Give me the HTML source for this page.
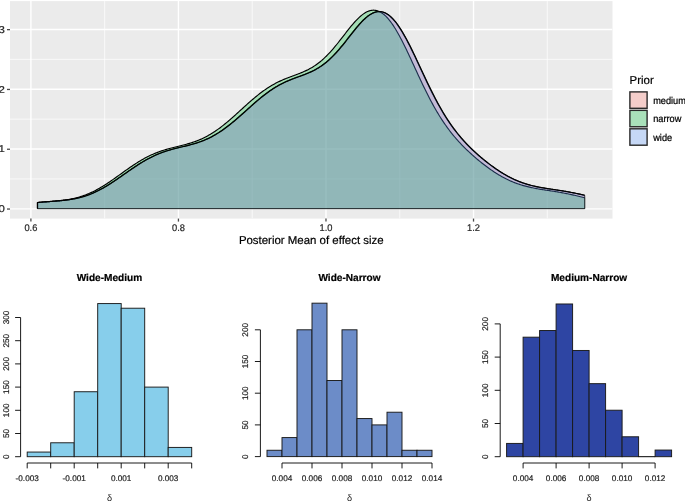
<!DOCTYPE html>
<html><head><meta charset="utf-8"><title>Posterior densities</title>
<style>html,body{margin:0;padding:0;background:#fff;width:685px;height:501px;overflow:hidden}</style>
</head><body>
<svg width="685" height="501" viewBox="0 0 685 501" style="display:block;will-change:transform;text-rendering:geometricPrecision;font-family:'Liberation Sans',sans-serif">
<rect width="685" height="501" fill="#fff"/>
<rect x="10.0" y="1.1" width="602.5" height="217.5" fill="#EBEBEB"/>
<clipPath id="pc"><rect x="10.0" y="1.1" width="602.5" height="217.5"/></clipPath>
<g clip-path="url(#pc)">
<line x1="10.0" x2="612.5" y1="178.95" y2="178.95" stroke="#fff" stroke-width="0.7"/>
<line x1="10.0" x2="612.5" y1="119.15" y2="119.15" stroke="#fff" stroke-width="0.7"/>
<line x1="10.0" x2="612.5" y1="59.35" y2="59.35" stroke="#fff" stroke-width="0.7"/>
<line x1="104.67" x2="104.67" y1="1.1" y2="218.6" stroke="#fff" stroke-width="0.7"/>
<line x1="252.21" x2="252.21" y1="1.1" y2="218.6" stroke="#fff" stroke-width="0.7"/>
<line x1="399.75" x2="399.75" y1="1.1" y2="218.6" stroke="#fff" stroke-width="0.7"/>
<line x1="547.29" x2="547.29" y1="1.1" y2="218.6" stroke="#fff" stroke-width="0.7"/>
<line x1="10.0" x2="612.5" y1="208.85" y2="208.85" stroke="#fff" stroke-width="1.4"/>
<line x1="10.0" x2="612.5" y1="149.05" y2="149.05" stroke="#fff" stroke-width="1.4"/>
<line x1="10.0" x2="612.5" y1="89.25" y2="89.25" stroke="#fff" stroke-width="1.4"/>
<line x1="10.0" x2="612.5" y1="29.45" y2="29.45" stroke="#fff" stroke-width="1.4"/>
<line x1="30.90" x2="30.90" y1="1.1" y2="218.6" stroke="#fff" stroke-width="1.4"/>
<line x1="178.44" x2="178.44" y1="1.1" y2="218.6" stroke="#fff" stroke-width="1.4"/>
<line x1="325.98" x2="325.98" y1="1.1" y2="218.6" stroke="#fff" stroke-width="1.4"/>
<line x1="473.52" x2="473.52" y1="1.1" y2="218.6" stroke="#fff" stroke-width="1.4"/>
<path d="M37.50,208.60 L37.50,202.56 L38.50,202.47 L39.50,202.39 L40.50,202.31 L41.50,202.22 L42.50,202.14 L43.50,202.07 L44.50,201.99 L45.50,201.91 L46.50,201.84 L47.50,201.76 L48.50,201.69 L49.50,201.61 L50.50,201.54 L51.50,201.46 L52.50,201.39 L53.50,201.31 L54.50,201.23 L55.50,201.15 L56.50,201.07 L57.50,200.99 L58.50,200.90 L59.50,200.81 L60.50,200.71 L61.50,200.62 L62.50,200.51 L63.50,200.40 L64.50,200.29 L65.50,200.17 L66.50,200.04 L67.50,199.91 L68.50,199.76 L69.50,199.61 L70.50,199.46 L71.50,199.29 L72.50,199.12 L73.50,198.93 L74.50,198.74 L75.50,198.54 L76.50,198.32 L77.50,198.10 L78.50,197.86 L79.50,197.61 L80.50,197.35 L81.50,197.08 L82.50,196.80 L83.50,196.50 L84.50,196.19 L85.50,195.87 L86.50,195.54 L87.50,195.19 L88.50,194.83 L89.50,194.46 L90.50,194.07 L91.50,193.66 L92.50,193.23 L93.50,192.79 L94.50,192.34 L95.50,191.87 L96.50,191.39 L97.50,190.90 L98.50,190.39 L99.50,189.87 L100.50,189.34 L101.50,188.80 L102.50,188.24 L103.50,187.67 L104.50,187.09 L105.50,186.50 L106.50,185.90 L107.50,185.29 L108.50,184.66 L109.50,184.03 L110.50,183.39 L111.50,182.75 L112.50,182.09 L113.50,181.43 L114.50,180.76 L115.50,180.08 L116.50,179.40 L117.50,178.72 L118.50,178.03 L119.50,177.34 L120.50,176.64 L121.50,175.94 L122.50,175.24 L123.50,174.54 L124.50,173.84 L125.50,173.14 L126.50,172.44 L127.50,171.74 L128.50,171.05 L129.50,170.36 L130.50,169.67 L131.50,168.98 L132.50,168.30 L133.50,167.62 L134.50,166.95 L135.50,166.29 L136.50,165.63 L137.50,164.98 L138.50,164.34 L139.50,163.71 L140.50,163.09 L141.50,162.48 L142.50,161.87 L143.50,161.28 L144.50,160.70 L145.50,160.13 L146.50,159.57 L147.50,159.02 L148.50,158.49 L149.50,157.96 L150.50,157.45 L151.50,156.95 L152.50,156.47 L153.50,155.99 L154.50,155.53 L155.50,155.08 L156.50,154.65 L157.50,154.22 L158.50,153.81 L159.50,153.41 L160.50,153.03 L161.50,152.65 L162.50,152.29 L163.50,151.93 L164.50,151.59 L165.50,151.26 L166.50,150.94 L167.50,150.63 L168.50,150.32 L169.50,150.03 L170.50,149.74 L171.50,149.46 L172.50,149.19 L173.50,148.92 L174.50,148.66 L175.50,148.41 L176.50,148.16 L177.50,147.91 L178.50,147.67 L179.50,147.42 L180.50,147.18 L181.50,146.94 L182.50,146.71 L183.50,146.47 L184.50,146.22 L185.50,145.98 L186.50,145.73 L187.50,145.48 L188.50,145.23 L189.50,144.97 L190.50,144.70 L191.50,144.43 L192.50,144.15 L193.50,143.87 L194.50,143.57 L195.50,143.27 L196.50,142.95 L197.50,142.63 L198.50,142.29 L199.50,141.94 L200.50,141.58 L201.50,141.21 L202.50,140.82 L203.50,140.42 L204.50,140.01 L205.50,139.58 L206.50,139.14 L207.50,138.68 L208.50,138.21 L209.50,137.72 L210.50,137.22 L211.50,136.70 L212.50,136.16 L213.50,135.61 L214.50,135.04 L215.50,134.46 L216.50,133.86 L217.50,133.25 L218.50,132.61 L219.50,131.97 L220.50,131.31 L221.50,130.63 L222.50,129.93 L223.50,129.23 L224.50,128.51 L225.50,127.77 L226.50,127.02 L227.50,126.26 L228.50,125.48 L229.50,124.70 L230.50,123.90 L231.50,123.09 L232.50,122.27 L233.50,121.44 L234.50,120.60 L235.50,119.75 L236.50,118.90 L237.50,118.03 L238.50,117.16 L239.50,116.29 L240.50,115.41 L241.50,114.53 L242.50,113.64 L243.50,112.75 L244.50,111.86 L245.50,110.96 L246.50,110.06 L247.50,109.15 L248.50,108.25 L249.50,107.35 L250.50,106.46 L251.50,105.56 L252.50,104.68 L253.50,103.80 L254.50,102.92 L255.50,102.05 L256.50,101.19 L257.50,100.34 L258.50,99.50 L259.50,98.66 L260.50,97.84 L261.50,97.03 L262.50,96.23 L263.50,95.44 L264.50,94.67 L265.50,93.91 L266.50,93.16 L267.50,92.43 L268.50,91.71 L269.50,91.00 L270.50,90.32 L271.50,89.64 L272.50,88.98 L273.50,88.34 L274.50,87.72 L275.50,87.11 L276.50,86.51 L277.50,85.93 L278.50,85.37 L279.50,84.82 L280.50,84.29 L281.50,83.77 L282.50,83.27 L283.50,82.78 L284.50,82.30 L285.50,81.84 L286.50,81.39 L287.50,80.95 L288.50,80.53 L289.50,80.11 L290.50,79.70 L291.50,79.30 L292.50,78.91 L293.50,78.53 L294.50,78.15 L295.50,77.78 L296.50,77.41 L297.50,77.04 L298.50,76.67 L299.50,76.31 L300.50,75.94 L301.50,75.57 L302.50,75.19 L303.50,74.82 L304.50,74.43 L305.50,74.04 L306.50,73.64 L307.50,73.23 L308.50,72.80 L309.50,72.37 L310.50,71.92 L311.50,71.45 L312.50,70.97 L313.50,70.47 L314.50,69.95 L315.50,69.41 L316.50,68.85 L317.50,68.26 L318.50,67.65 L319.50,67.02 L320.50,66.36 L321.50,65.68 L322.50,64.97 L323.50,64.23 L324.50,63.46 L325.50,62.67 L326.50,61.85 L327.50,61.00 L328.50,60.12 L329.50,59.21 L330.50,58.27 L331.50,57.30 L332.50,56.31 L333.50,55.29 L334.50,54.24 L335.50,53.17 L336.50,52.07 L337.50,50.94 L338.50,49.80 L339.50,48.63 L340.50,47.44 L341.50,46.24 L342.50,45.02 L343.50,43.78 L344.50,42.53 L345.50,41.27 L346.50,40.00 L347.50,38.73 L348.50,37.46 L349.50,36.18 L350.50,34.91 L351.50,33.64 L352.50,32.37 L353.50,31.12 L354.50,29.88 L355.50,28.65 L356.50,27.45 L357.50,26.26 L358.50,25.10 L359.50,23.97 L360.50,22.87 L361.50,21.80 L362.50,20.77 L363.50,19.78 L364.50,18.84 L365.50,17.93 L366.50,17.08 L367.50,16.28 L368.50,15.54 L369.50,14.85 L370.50,14.22 L371.50,13.65 L372.50,13.15 L373.50,12.71 L374.50,12.35 L375.50,12.05 L376.50,11.82 L377.50,11.67 L378.50,11.59 L379.50,11.59 L380.50,11.67 L381.50,11.82 L382.50,12.06 L383.50,12.37 L384.50,12.76 L385.50,13.23 L386.50,13.78 L387.50,14.41 L388.50,15.12 L389.50,15.91 L390.50,16.78 L391.50,17.72 L392.50,18.73 L393.50,19.82 L394.50,20.99 L395.50,22.22 L396.50,23.52 L397.50,24.89 L398.50,26.32 L399.50,27.82 L400.50,29.37 L401.50,30.98 L402.50,32.65 L403.50,34.37 L404.50,36.14 L405.50,37.95 L406.50,39.81 L407.50,41.70 L408.50,43.64 L409.50,45.61 L410.50,47.61 L411.50,49.64 L412.50,51.69 L413.50,53.77 L414.50,55.86 L415.50,57.97 L416.50,60.10 L417.50,62.23 L418.50,64.37 L419.50,66.51 L420.50,68.66 L421.50,70.80 L422.50,72.94 L423.50,75.08 L424.50,77.20 L425.50,79.32 L426.50,81.42 L427.50,83.51 L428.50,85.58 L429.50,87.63 L430.50,89.66 L431.50,91.67 L432.50,93.65 L433.50,95.61 L434.50,97.54 L435.50,99.45 L436.50,101.33 L437.50,103.18 L438.50,105.00 L439.50,106.79 L440.50,108.54 L441.50,110.27 L442.50,111.97 L443.50,113.63 L444.50,115.27 L445.50,116.87 L446.50,118.44 L447.50,119.98 L448.50,121.49 L449.50,122.97 L450.50,124.41 L451.50,125.83 L452.50,127.22 L453.50,128.58 L454.50,129.92 L455.50,131.22 L456.50,132.50 L457.50,133.75 L458.50,134.98 L459.50,136.19 L460.50,137.37 L461.50,138.53 L462.50,139.66 L463.50,140.78 L464.50,141.88 L465.50,142.95 L466.50,144.01 L467.50,145.05 L468.50,146.07 L469.50,147.07 L470.50,148.06 L471.50,149.03 L472.50,149.99 L473.50,150.94 L474.50,151.87 L475.50,152.78 L476.50,153.69 L477.50,154.58 L478.50,155.46 L479.50,156.32 L480.50,157.18 L481.50,158.02 L482.50,158.86 L483.50,159.68 L484.50,160.49 L485.50,161.29 L486.50,162.08 L487.50,162.87 L488.50,163.64 L489.50,164.39 L490.50,165.14 L491.50,165.88 L492.50,166.61 L493.50,167.33 L494.50,168.03 L495.50,168.73 L496.50,169.41 L497.50,170.09 L498.50,170.75 L499.50,171.40 L500.50,172.03 L501.50,172.66 L502.50,173.28 L503.50,173.88 L504.50,174.47 L505.50,175.04 L506.50,175.61 L507.50,176.16 L508.50,176.70 L509.50,177.22 L510.50,177.74 L511.50,178.24 L512.50,178.72 L513.50,179.20 L514.50,179.66 L515.50,180.10 L516.50,180.54 L517.50,180.96 L518.50,181.36 L519.50,181.76 L520.50,182.14 L521.50,182.51 L522.50,182.87 L523.50,183.21 L524.50,183.54 L525.50,183.86 L526.50,184.17 L527.50,184.47 L528.50,184.76 L529.50,185.03 L530.50,185.30 L531.50,185.56 L532.50,185.80 L533.50,186.04 L534.50,186.27 L535.50,186.49 L536.50,186.70 L537.50,186.91 L538.50,187.11 L539.50,187.30 L540.50,187.49 L541.50,187.67 L542.50,187.84 L543.50,188.01 L544.50,188.18 L545.50,188.34 L546.50,188.50 L547.50,188.66 L548.50,188.81 L549.50,188.96 L550.50,189.11 L551.50,189.26 L552.50,189.41 L553.50,189.56 L554.50,189.71 L555.50,189.86 L556.50,190.01 L557.50,190.16 L558.50,190.31 L559.50,190.46 L560.50,190.62 L561.50,190.78 L562.50,190.94 L563.50,191.10 L564.50,191.27 L565.50,191.43 L566.50,191.61 L567.50,191.78 L568.50,191.96 L569.50,192.14 L570.50,192.33 L571.50,192.52 L572.50,192.71 L573.50,192.91 L574.50,193.11 L575.50,193.31 L576.50,193.52 L577.50,193.73 L578.50,193.95 L579.50,194.17 L580.50,194.39 L581.50,194.61 L582.50,194.84 L583.50,195.07 L584.50,195.31 L584.70,195.35 L584.70,208.60 Z" fill="#F8766D" fill-opacity="0.3" stroke="none"/>
<path d="M37.50,208.60 L37.50,202.56 L38.50,202.47 L39.50,202.39 L40.50,202.31 L41.50,202.22 L42.50,202.14 L43.50,202.07 L44.50,201.99 L45.50,201.91 L46.50,201.84 L47.50,201.76 L48.50,201.69 L49.50,201.61 L50.50,201.54 L51.50,201.46 L52.50,201.39 L53.50,201.31 L54.50,201.23 L55.50,201.15 L56.50,201.07 L57.50,200.99 L58.50,200.90 L59.50,200.81 L60.50,200.71 L61.50,200.62 L62.50,200.51 L63.50,200.40 L64.50,200.29 L65.50,200.17 L66.50,200.04 L67.50,199.91 L68.50,199.76 L69.50,199.61 L70.50,199.46 L71.50,199.29 L72.50,199.12 L73.50,198.93 L74.50,198.74 L75.50,198.54 L76.50,198.32 L77.50,198.10 L78.50,197.86 L79.50,197.61 L80.50,197.35 L81.50,197.08 L82.50,196.80 L83.50,196.50 L84.50,196.19 L85.50,195.87 L86.50,195.54 L87.50,195.19 L88.50,194.83 L89.50,194.46 L90.50,194.07 L91.50,193.66 L92.50,193.23 L93.50,192.79 L94.50,192.34 L95.50,191.87 L96.50,191.39 L97.50,190.90 L98.50,190.39 L99.50,189.87 L100.50,189.34 L101.50,188.80 L102.50,188.24 L103.50,187.67 L104.50,187.09 L105.50,186.50 L106.50,185.90 L107.50,185.29 L108.50,184.66 L109.50,184.03 L110.50,183.39 L111.50,182.75 L112.50,182.09 L113.50,181.43 L114.50,180.76 L115.50,180.08 L116.50,179.40 L117.50,178.72 L118.50,178.03 L119.50,177.34 L120.50,176.64 L121.50,175.94 L122.50,175.24 L123.50,174.54 L124.50,173.84 L125.50,173.14 L126.50,172.44 L127.50,171.74 L128.50,171.05 L129.50,170.36 L130.50,169.67 L131.50,168.98 L132.50,168.30 L133.50,167.62 L134.50,166.95 L135.50,166.29 L136.50,165.63 L137.50,164.98 L138.50,164.34 L139.50,163.71 L140.50,163.09 L141.50,162.48 L142.50,161.87 L143.50,161.28 L144.50,160.70 L145.50,160.13 L146.50,159.57 L147.50,159.02 L148.50,158.49 L149.50,157.96 L150.50,157.45 L151.50,156.95 L152.50,156.47 L153.50,155.99 L154.50,155.53 L155.50,155.08 L156.50,154.65 L157.50,154.22 L158.50,153.81 L159.50,153.41 L160.50,153.03 L161.50,152.65 L162.50,152.29 L163.50,151.93 L164.50,151.59 L165.50,151.26 L166.50,150.94 L167.50,150.63 L168.50,150.32 L169.50,150.03 L170.50,149.74 L171.50,149.46 L172.50,149.19 L173.50,148.92 L174.50,148.66 L175.50,148.41 L176.50,148.16 L177.50,147.91 L178.50,147.67 L179.50,147.42 L180.50,147.18 L181.50,146.94 L182.50,146.71 L183.50,146.47 L184.50,146.22 L185.50,145.98 L186.50,145.73 L187.50,145.48 L188.50,145.23 L189.50,144.97 L190.50,144.70 L191.50,144.43 L192.50,144.15 L193.50,143.87 L194.50,143.57 L195.50,143.27 L196.50,142.95 L197.50,142.63 L198.50,142.29 L199.50,141.94 L200.50,141.58 L201.50,141.21 L202.50,140.82 L203.50,140.42 L204.50,140.01 L205.50,139.58 L206.50,139.14 L207.50,138.68 L208.50,138.21 L209.50,137.72 L210.50,137.22 L211.50,136.70 L212.50,136.16 L213.50,135.61 L214.50,135.04 L215.50,134.46 L216.50,133.86 L217.50,133.25 L218.50,132.61 L219.50,131.97 L220.50,131.31 L221.50,130.63 L222.50,129.93 L223.50,129.23 L224.50,128.51 L225.50,127.77 L226.50,127.02 L227.50,126.26 L228.50,125.48 L229.50,124.70 L230.50,123.90 L231.50,123.09 L232.50,122.27 L233.50,121.44 L234.50,120.60 L235.50,119.75 L236.50,118.90 L237.50,118.03 L238.50,117.16 L239.50,116.29 L240.50,115.41 L241.50,114.53 L242.50,113.64 L243.50,112.75 L244.50,111.86 L245.50,110.96 L246.50,110.06 L247.50,109.15 L248.50,108.25 L249.50,107.35 L250.50,106.46 L251.50,105.56 L252.50,104.68 L253.50,103.80 L254.50,102.92 L255.50,102.05 L256.50,101.19 L257.50,100.34 L258.50,99.50 L259.50,98.66 L260.50,97.84 L261.50,97.03 L262.50,96.23 L263.50,95.44 L264.50,94.67 L265.50,93.91 L266.50,93.16 L267.50,92.43 L268.50,91.71 L269.50,91.00 L270.50,90.32 L271.50,89.64 L272.50,88.98 L273.50,88.34 L274.50,87.72 L275.50,87.11 L276.50,86.51 L277.50,85.93 L278.50,85.37 L279.50,84.82 L280.50,84.29 L281.50,83.77 L282.50,83.27 L283.50,82.78 L284.50,82.30 L285.50,81.84 L286.50,81.39 L287.50,80.95 L288.50,80.53 L289.50,80.11 L290.50,79.70 L291.50,79.30 L292.50,78.91 L293.50,78.53 L294.50,78.15 L295.50,77.78 L296.50,77.41 L297.50,77.04 L298.50,76.67 L299.50,76.31 L300.50,75.94 L301.50,75.57 L302.50,75.19 L303.50,74.82 L304.50,74.43 L305.50,74.04 L306.50,73.64 L307.50,73.23 L308.50,72.80 L309.50,72.37 L310.50,71.92 L311.50,71.45 L312.50,70.97 L313.50,70.47 L314.50,69.95 L315.50,69.41 L316.50,68.85 L317.50,68.26 L318.50,67.65 L319.50,67.02 L320.50,66.36 L321.50,65.68 L322.50,64.97 L323.50,64.23 L324.50,63.46 L325.50,62.67 L326.50,61.85 L327.50,61.00 L328.50,60.12 L329.50,59.21 L330.50,58.27 L331.50,57.30 L332.50,56.31 L333.50,55.29 L334.50,54.24 L335.50,53.17 L336.50,52.07 L337.50,50.94 L338.50,49.80 L339.50,48.63 L340.50,47.44 L341.50,46.24 L342.50,45.02 L343.50,43.78 L344.50,42.53 L345.50,41.27 L346.50,40.00 L347.50,38.73 L348.50,37.46 L349.50,36.18 L350.50,34.91 L351.50,33.64 L352.50,32.37 L353.50,31.12 L354.50,29.88 L355.50,28.65 L356.50,27.45 L357.50,26.26 L358.50,25.10 L359.50,23.97 L360.50,22.87 L361.50,21.80 L362.50,20.77 L363.50,19.78 L364.50,18.84 L365.50,17.93 L366.50,17.08 L367.50,16.28 L368.50,15.54 L369.50,14.85 L370.50,14.22 L371.50,13.65 L372.50,13.15 L373.50,12.71 L374.50,12.35 L375.50,12.05 L376.50,11.82 L377.50,11.67 L378.50,11.59 L379.50,11.59 L380.50,11.67 L381.50,11.82 L382.50,12.06 L383.50,12.37 L384.50,12.76 L385.50,13.23 L386.50,13.78 L387.50,14.41 L388.50,15.12 L389.50,15.91 L390.50,16.78 L391.50,17.72 L392.50,18.73 L393.50,19.82 L394.50,20.99 L395.50,22.22 L396.50,23.52 L397.50,24.89 L398.50,26.32 L399.50,27.82 L400.50,29.37 L401.50,30.98 L402.50,32.65 L403.50,34.37 L404.50,36.14 L405.50,37.95 L406.50,39.81 L407.50,41.70 L408.50,43.64 L409.50,45.61 L410.50,47.61 L411.50,49.64 L412.50,51.69 L413.50,53.77 L414.50,55.86 L415.50,57.97 L416.50,60.10 L417.50,62.23 L418.50,64.37 L419.50,66.51 L420.50,68.66 L421.50,70.80 L422.50,72.94 L423.50,75.08 L424.50,77.20 L425.50,79.32 L426.50,81.42 L427.50,83.51 L428.50,85.58 L429.50,87.63 L430.50,89.66 L431.50,91.67 L432.50,93.65 L433.50,95.61 L434.50,97.54 L435.50,99.45 L436.50,101.33 L437.50,103.18 L438.50,105.00 L439.50,106.79 L440.50,108.54 L441.50,110.27 L442.50,111.97 L443.50,113.63 L444.50,115.27 L445.50,116.87 L446.50,118.44 L447.50,119.98 L448.50,121.49 L449.50,122.97 L450.50,124.41 L451.50,125.83 L452.50,127.22 L453.50,128.58 L454.50,129.92 L455.50,131.22 L456.50,132.50 L457.50,133.75 L458.50,134.98 L459.50,136.19 L460.50,137.37 L461.50,138.53 L462.50,139.66 L463.50,140.78 L464.50,141.88 L465.50,142.95 L466.50,144.01 L467.50,145.05 L468.50,146.07 L469.50,147.07 L470.50,148.06 L471.50,149.03 L472.50,149.99 L473.50,150.94 L474.50,151.87 L475.50,152.78 L476.50,153.69 L477.50,154.58 L478.50,155.46 L479.50,156.32 L480.50,157.18 L481.50,158.02 L482.50,158.86 L483.50,159.68 L484.50,160.49 L485.50,161.29 L486.50,162.08 L487.50,162.87 L488.50,163.64 L489.50,164.39 L490.50,165.14 L491.50,165.88 L492.50,166.61 L493.50,167.33 L494.50,168.03 L495.50,168.73 L496.50,169.41 L497.50,170.09 L498.50,170.75 L499.50,171.40 L500.50,172.03 L501.50,172.66 L502.50,173.28 L503.50,173.88 L504.50,174.47 L505.50,175.04 L506.50,175.61 L507.50,176.16 L508.50,176.70 L509.50,177.22 L510.50,177.74 L511.50,178.24 L512.50,178.72 L513.50,179.20 L514.50,179.66 L515.50,180.10 L516.50,180.54 L517.50,180.96 L518.50,181.36 L519.50,181.76 L520.50,182.14 L521.50,182.51 L522.50,182.87 L523.50,183.21 L524.50,183.54 L525.50,183.86 L526.50,184.17 L527.50,184.47 L528.50,184.76 L529.50,185.03 L530.50,185.30 L531.50,185.56 L532.50,185.80 L533.50,186.04 L534.50,186.27 L535.50,186.49 L536.50,186.70 L537.50,186.91 L538.50,187.11 L539.50,187.30 L540.50,187.49 L541.50,187.67 L542.50,187.84 L543.50,188.01 L544.50,188.18 L545.50,188.34 L546.50,188.50 L547.50,188.66 L548.50,188.81 L549.50,188.96 L550.50,189.11 L551.50,189.26 L552.50,189.41 L553.50,189.56 L554.50,189.71 L555.50,189.86 L556.50,190.01 L557.50,190.16 L558.50,190.31 L559.50,190.46 L560.50,190.62 L561.50,190.78 L562.50,190.94 L563.50,191.10 L564.50,191.27 L565.50,191.43 L566.50,191.61 L567.50,191.78 L568.50,191.96 L569.50,192.14 L570.50,192.33 L571.50,192.52 L572.50,192.71 L573.50,192.91 L574.50,193.11 L575.50,193.31 L576.50,193.52 L577.50,193.73 L578.50,193.95 L579.50,194.17 L580.50,194.39 L581.50,194.61 L582.50,194.84 L583.50,195.07 L584.50,195.31 L584.70,195.35" fill="none" stroke="#000" stroke-width="1.15" stroke-linejoin="round"/>
<line x1="584.70" x2="584.70" y1="195.35" y2="208.6" stroke="#000" stroke-width="1.0" stroke-opacity="0.45"/>
<line x1="37.50" x2="584.70" y1="208.6" y2="208.6" stroke="#000" stroke-width="1.0" stroke-opacity="0.45"/>
<path d="M37.50,208.60 L37.50,202.52 L38.50,202.43 L39.50,202.34 L40.50,202.25 L41.50,202.16 L42.50,202.08 L43.50,201.99 L44.50,201.91 L45.50,201.83 L46.50,201.75 L47.50,201.67 L48.50,201.59 L49.50,201.51 L50.50,201.43 L51.50,201.35 L52.50,201.27 L53.50,201.19 L54.50,201.10 L55.50,201.02 L56.50,200.93 L57.50,200.83 L58.50,200.74 L59.50,200.64 L60.50,200.53 L61.50,200.42 L62.50,200.30 L63.50,200.18 L64.50,200.05 L65.50,199.91 L66.50,199.76 L67.50,199.61 L68.50,199.45 L69.50,199.27 L70.50,199.09 L71.50,198.90 L72.50,198.70 L73.50,198.48 L74.50,198.26 L75.50,198.02 L76.50,197.77 L77.50,197.51 L78.50,197.23 L79.50,196.94 L80.50,196.64 L81.50,196.32 L82.50,195.99 L83.50,195.65 L84.50,195.29 L85.50,194.92 L86.50,194.53 L87.50,194.13 L88.50,193.71 L89.50,193.28 L90.50,192.84 L91.50,192.38 L92.50,191.90 L93.50,191.41 L94.50,190.91 L95.50,190.40 L96.50,189.87 L97.50,189.32 L98.50,188.77 L99.50,188.20 L100.50,187.62 L101.50,187.03 L102.50,186.42 L103.50,185.81 L104.50,185.18 L105.50,184.54 L106.50,183.90 L107.50,183.24 L108.50,182.58 L109.50,181.91 L110.50,181.23 L111.50,180.54 L112.50,179.85 L113.50,179.15 L114.50,178.45 L115.50,177.74 L116.50,177.03 L117.50,176.32 L118.50,175.60 L119.50,174.89 L120.50,174.17 L121.50,173.45 L122.50,172.73 L123.50,172.02 L124.50,171.30 L125.50,170.59 L126.50,169.88 L127.50,169.18 L128.50,168.48 L129.50,167.78 L130.50,167.09 L131.50,166.41 L132.50,165.73 L133.50,165.07 L134.50,164.41 L135.50,163.76 L136.50,163.11 L137.50,162.48 L138.50,161.86 L139.50,161.25 L140.50,160.65 L141.50,160.06 L142.50,159.48 L143.50,158.92 L144.50,158.37 L145.50,157.83 L146.50,157.30 L147.50,156.78 L148.50,156.28 L149.50,155.79 L150.50,155.32 L151.50,154.85 L152.50,154.40 L153.50,153.97 L154.50,153.54 L155.50,153.13 L156.50,152.73 L157.50,152.35 L158.50,151.97 L159.50,151.61 L160.50,151.26 L161.50,150.91 L162.50,150.58 L163.50,150.26 L164.50,149.95 L165.50,149.65 L166.50,149.36 L167.50,149.07 L168.50,148.79 L169.50,148.52 L170.50,148.25 L171.50,147.99 L172.50,147.73 L173.50,147.48 L174.50,147.23 L175.50,146.99 L176.50,146.74 L177.50,146.50 L178.50,146.25 L179.50,146.01 L180.50,145.76 L181.50,145.51 L182.50,145.26 L183.50,145.00 L184.50,144.74 L185.50,144.47 L186.50,144.20 L187.50,143.92 L188.50,143.63 L189.50,143.34 L190.50,143.03 L191.50,142.72 L192.50,142.39 L193.50,142.06 L194.50,141.71 L195.50,141.35 L196.50,140.98 L197.50,140.59 L198.50,140.19 L199.50,139.78 L200.50,139.35 L201.50,138.91 L202.50,138.45 L203.50,137.98 L204.50,137.49 L205.50,136.98 L206.50,136.46 L207.50,135.92 L208.50,135.36 L209.50,134.79 L210.50,134.20 L211.50,133.59 L212.50,132.97 L213.50,132.33 L214.50,131.68 L215.50,131.01 L216.50,130.32 L217.50,129.62 L218.50,128.90 L219.50,128.17 L220.50,127.42 L221.50,126.66 L222.50,125.88 L223.50,125.09 L224.50,124.29 L225.50,123.48 L226.50,122.65 L227.50,121.82 L228.50,120.97 L229.50,120.11 L230.50,119.25 L231.50,118.37 L232.50,117.49 L233.50,116.61 L234.50,115.71 L235.50,114.81 L236.50,113.91 L237.50,113.00 L238.50,112.09 L239.50,111.18 L240.50,110.27 L241.50,109.36 L242.50,108.45 L243.50,107.53 L244.50,106.63 L245.50,105.72 L246.50,104.82 L247.50,103.92 L248.50,103.03 L249.50,102.15 L250.50,101.27 L251.50,100.40 L252.50,99.54 L253.50,98.69 L254.50,97.85 L255.50,97.02 L256.50,96.20 L257.50,95.39 L258.50,94.60 L259.50,93.82 L260.50,93.05 L261.50,92.30 L262.50,91.56 L263.50,90.83 L264.50,90.12 L265.50,89.43 L266.50,88.75 L267.50,88.09 L268.50,87.44 L269.50,86.81 L270.50,86.19 L271.50,85.60 L272.50,85.01 L273.50,84.45 L274.50,83.89 L275.50,83.36 L276.50,82.84 L277.50,82.33 L278.50,81.84 L279.50,81.36 L280.50,80.89 L281.50,80.44 L282.50,80.00 L283.50,79.57 L284.50,79.15 L285.50,78.74 L286.50,78.34 L287.50,77.94 L288.50,77.55 L289.50,77.17 L290.50,76.80 L291.50,76.42 L292.50,76.05 L293.50,75.68 L294.50,75.31 L295.50,74.94 L296.50,74.57 L297.50,74.19 L298.50,73.81 L299.50,73.42 L300.50,73.02 L301.50,72.61 L302.50,72.19 L303.50,71.76 L304.50,71.32 L305.50,70.86 L306.50,70.39 L307.50,69.90 L308.50,69.39 L309.50,68.86 L310.50,68.31 L311.50,67.74 L312.50,67.14 L313.50,66.52 L314.50,65.88 L315.50,65.21 L316.50,64.51 L317.50,63.78 L318.50,63.03 L319.50,62.25 L320.50,61.44 L321.50,60.61 L322.50,59.74 L323.50,58.84 L324.50,57.92 L325.50,56.96 L326.50,55.98 L327.50,54.97 L328.50,53.93 L329.50,52.86 L330.50,51.77 L331.50,50.65 L332.50,49.51 L333.50,48.35 L334.50,47.16 L335.50,45.96 L336.50,44.74 L337.50,43.50 L338.50,42.24 L339.50,40.98 L340.50,39.70 L341.50,38.42 L342.50,37.13 L343.50,35.84 L344.50,34.55 L345.50,33.26 L346.50,31.97 L347.50,30.70 L348.50,29.43 L349.50,28.18 L350.50,26.95 L351.50,25.73 L352.50,24.54 L353.50,23.38 L354.50,22.25 L355.50,21.14 L356.50,20.08 L357.50,19.05 L358.50,18.07 L359.50,17.13 L360.50,16.23 L361.50,15.39 L362.50,14.61 L363.50,13.87 L364.50,13.20 L365.50,12.59 L366.50,12.05 L367.50,11.57 L368.50,11.16 L369.50,10.82 L370.50,10.55 L371.50,10.35 L372.50,10.24 L373.50,10.19 L374.50,10.23 L375.50,10.35 L376.50,10.54 L377.50,10.82 L378.50,11.17 L379.50,11.61 L380.50,12.13 L381.50,12.73 L382.50,13.41 L383.50,14.17 L384.50,15.01 L385.50,15.93 L386.50,16.92 L387.50,17.99 L388.50,19.14 L389.50,20.35 L390.50,21.64 L391.50,23.00 L392.50,24.42 L393.50,25.91 L394.50,27.45 L395.50,29.06 L396.50,30.73 L397.50,32.45 L398.50,34.22 L399.50,36.04 L400.50,37.90 L401.50,39.81 L402.50,41.75 L403.50,43.73 L404.50,45.75 L405.50,47.79 L406.50,49.86 L407.50,51.95 L408.50,54.07 L409.50,56.20 L410.50,58.34 L411.50,60.50 L412.50,62.67 L413.50,64.83 L414.50,67.01 L415.50,69.18 L416.50,71.35 L417.50,73.51 L418.50,75.66 L419.50,77.81 L420.50,79.94 L421.50,82.06 L422.50,84.16 L423.50,86.24 L424.50,88.30 L425.50,90.34 L426.50,92.35 L427.50,94.34 L428.50,96.31 L429.50,98.24 L430.50,100.15 L431.50,102.03 L432.50,103.88 L433.50,105.70 L434.50,107.48 L435.50,109.24 L436.50,110.96 L437.50,112.65 L438.50,114.31 L439.50,115.94 L440.50,117.54 L441.50,119.10 L442.50,120.63 L443.50,122.13 L444.50,123.60 L445.50,125.04 L446.50,126.45 L447.50,127.84 L448.50,129.19 L449.50,130.51 L450.50,131.81 L451.50,133.08 L452.50,134.33 L453.50,135.55 L454.50,136.75 L455.50,137.93 L456.50,139.08 L457.50,140.21 L458.50,141.32 L459.50,142.41 L460.50,143.48 L461.50,144.53 L462.50,145.57 L463.50,146.58 L464.50,147.59 L465.50,148.57 L466.50,149.54 L467.50,150.50 L468.50,151.44 L469.50,152.37 L470.50,153.29 L471.50,154.20 L472.50,155.10 L473.50,156.00 L474.50,156.87 L475.50,157.74 L476.50,158.60 L477.50,159.44 L478.50,160.28 L479.50,161.10 L480.50,161.91 L481.50,162.72 L482.50,163.51 L483.50,164.29 L484.50,165.06 L485.50,165.82 L486.50,166.57 L487.50,167.30 L488.50,168.03 L489.50,168.75 L490.50,169.45 L491.50,170.14 L492.50,170.83 L493.50,171.49 L494.50,172.15 L495.50,172.80 L496.50,173.43 L497.50,174.05 L498.50,174.66 L499.50,175.25 L500.50,175.84 L501.50,176.41 L502.50,176.96 L503.50,177.51 L504.50,178.04 L505.50,178.55 L506.50,179.06 L507.50,179.54 L508.50,180.02 L509.50,180.48 L510.50,180.93 L511.50,181.37 L512.50,181.79 L513.50,182.20 L514.50,182.60 L515.50,182.98 L516.50,183.35 L517.50,183.71 L518.50,184.06 L519.50,184.39 L520.50,184.72 L521.50,185.03 L522.50,185.33 L523.50,185.62 L524.50,185.90 L525.50,186.17 L526.50,186.43 L527.50,186.68 L528.50,186.92 L529.50,187.16 L530.50,187.38 L531.50,187.60 L532.50,187.81 L533.50,188.02 L534.50,188.22 L535.50,188.41 L536.50,188.60 L537.50,188.79 L538.50,188.97 L539.50,189.14 L540.50,189.31 L541.50,189.47 L542.50,189.62 L543.50,189.77 L544.50,189.93 L545.50,190.08 L546.50,190.23 L547.50,190.38 L548.50,190.53 L549.50,190.68 L550.50,190.83 L551.50,190.98 L552.50,191.14 L553.50,191.29 L554.50,191.45 L555.50,191.61 L556.50,191.78 L557.50,191.94 L558.50,192.11 L559.50,192.28 L560.50,192.46 L561.50,192.64 L562.50,192.82 L563.50,193.01 L564.50,193.20 L565.50,193.39 L566.50,193.59 L567.50,193.79 L568.50,193.99 L569.50,194.20 L570.50,194.41 L571.50,194.63 L572.50,194.85 L573.50,195.07 L574.50,195.30 L575.50,195.53 L576.50,195.76 L577.50,195.99 L578.50,196.23 L579.50,196.47 L580.50,196.71 L581.50,196.96 L582.50,197.20 L583.50,197.45 L584.50,197.70 L584.70,197.75 L584.70,208.60 Z" fill="#00BA38" fill-opacity="0.3" stroke="none"/>
<path d="M37.50,208.60 L37.50,202.52 L38.50,202.43 L39.50,202.34 L40.50,202.25 L41.50,202.16 L42.50,202.08 L43.50,201.99 L44.50,201.91 L45.50,201.83 L46.50,201.75 L47.50,201.67 L48.50,201.59 L49.50,201.51 L50.50,201.43 L51.50,201.35 L52.50,201.27 L53.50,201.19 L54.50,201.10 L55.50,201.02 L56.50,200.93 L57.50,200.83 L58.50,200.74 L59.50,200.64 L60.50,200.53 L61.50,200.42 L62.50,200.30 L63.50,200.18 L64.50,200.05 L65.50,199.91 L66.50,199.76 L67.50,199.61 L68.50,199.45 L69.50,199.27 L70.50,199.09 L71.50,198.90 L72.50,198.70 L73.50,198.48 L74.50,198.26 L75.50,198.02 L76.50,197.77 L77.50,197.51 L78.50,197.23 L79.50,196.94 L80.50,196.64 L81.50,196.32 L82.50,195.99 L83.50,195.65 L84.50,195.29 L85.50,194.92 L86.50,194.53 L87.50,194.13 L88.50,193.71 L89.50,193.28 L90.50,192.84 L91.50,192.38 L92.50,191.90 L93.50,191.41 L94.50,190.91 L95.50,190.40 L96.50,189.87 L97.50,189.32 L98.50,188.77 L99.50,188.20 L100.50,187.62 L101.50,187.03 L102.50,186.42 L103.50,185.81 L104.50,185.18 L105.50,184.54 L106.50,183.90 L107.50,183.24 L108.50,182.58 L109.50,181.91 L110.50,181.23 L111.50,180.54 L112.50,179.85 L113.50,179.15 L114.50,178.45 L115.50,177.74 L116.50,177.03 L117.50,176.32 L118.50,175.60 L119.50,174.89 L120.50,174.17 L121.50,173.45 L122.50,172.73 L123.50,172.02 L124.50,171.30 L125.50,170.59 L126.50,169.88 L127.50,169.18 L128.50,168.48 L129.50,167.78 L130.50,167.09 L131.50,166.41 L132.50,165.73 L133.50,165.07 L134.50,164.41 L135.50,163.76 L136.50,163.11 L137.50,162.48 L138.50,161.86 L139.50,161.25 L140.50,160.65 L141.50,160.06 L142.50,159.48 L143.50,158.92 L144.50,158.37 L145.50,157.83 L146.50,157.30 L147.50,156.78 L148.50,156.28 L149.50,155.79 L150.50,155.32 L151.50,154.85 L152.50,154.40 L153.50,153.97 L154.50,153.54 L155.50,153.13 L156.50,152.73 L157.50,152.35 L158.50,151.97 L159.50,151.61 L160.50,151.26 L161.50,150.91 L162.50,150.58 L163.50,150.26 L164.50,149.95 L165.50,149.65 L166.50,149.36 L167.50,149.07 L168.50,148.79 L169.50,148.52 L170.50,148.25 L171.50,147.99 L172.50,147.73 L173.50,147.48 L174.50,147.23 L175.50,146.99 L176.50,146.74 L177.50,146.50 L178.50,146.25 L179.50,146.01 L180.50,145.76 L181.50,145.51 L182.50,145.26 L183.50,145.00 L184.50,144.74 L185.50,144.47 L186.50,144.20 L187.50,143.92 L188.50,143.63 L189.50,143.34 L190.50,143.03 L191.50,142.72 L192.50,142.39 L193.50,142.06 L194.50,141.71 L195.50,141.35 L196.50,140.98 L197.50,140.59 L198.50,140.19 L199.50,139.78 L200.50,139.35 L201.50,138.91 L202.50,138.45 L203.50,137.98 L204.50,137.49 L205.50,136.98 L206.50,136.46 L207.50,135.92 L208.50,135.36 L209.50,134.79 L210.50,134.20 L211.50,133.59 L212.50,132.97 L213.50,132.33 L214.50,131.68 L215.50,131.01 L216.50,130.32 L217.50,129.62 L218.50,128.90 L219.50,128.17 L220.50,127.42 L221.50,126.66 L222.50,125.88 L223.50,125.09 L224.50,124.29 L225.50,123.48 L226.50,122.65 L227.50,121.82 L228.50,120.97 L229.50,120.11 L230.50,119.25 L231.50,118.37 L232.50,117.49 L233.50,116.61 L234.50,115.71 L235.50,114.81 L236.50,113.91 L237.50,113.00 L238.50,112.09 L239.50,111.18 L240.50,110.27 L241.50,109.36 L242.50,108.45 L243.50,107.53 L244.50,106.63 L245.50,105.72 L246.50,104.82 L247.50,103.92 L248.50,103.03 L249.50,102.15 L250.50,101.27 L251.50,100.40 L252.50,99.54 L253.50,98.69 L254.50,97.85 L255.50,97.02 L256.50,96.20 L257.50,95.39 L258.50,94.60 L259.50,93.82 L260.50,93.05 L261.50,92.30 L262.50,91.56 L263.50,90.83 L264.50,90.12 L265.50,89.43 L266.50,88.75 L267.50,88.09 L268.50,87.44 L269.50,86.81 L270.50,86.19 L271.50,85.60 L272.50,85.01 L273.50,84.45 L274.50,83.89 L275.50,83.36 L276.50,82.84 L277.50,82.33 L278.50,81.84 L279.50,81.36 L280.50,80.89 L281.50,80.44 L282.50,80.00 L283.50,79.57 L284.50,79.15 L285.50,78.74 L286.50,78.34 L287.50,77.94 L288.50,77.55 L289.50,77.17 L290.50,76.80 L291.50,76.42 L292.50,76.05 L293.50,75.68 L294.50,75.31 L295.50,74.94 L296.50,74.57 L297.50,74.19 L298.50,73.81 L299.50,73.42 L300.50,73.02 L301.50,72.61 L302.50,72.19 L303.50,71.76 L304.50,71.32 L305.50,70.86 L306.50,70.39 L307.50,69.90 L308.50,69.39 L309.50,68.86 L310.50,68.31 L311.50,67.74 L312.50,67.14 L313.50,66.52 L314.50,65.88 L315.50,65.21 L316.50,64.51 L317.50,63.78 L318.50,63.03 L319.50,62.25 L320.50,61.44 L321.50,60.61 L322.50,59.74 L323.50,58.84 L324.50,57.92 L325.50,56.96 L326.50,55.98 L327.50,54.97 L328.50,53.93 L329.50,52.86 L330.50,51.77 L331.50,50.65 L332.50,49.51 L333.50,48.35 L334.50,47.16 L335.50,45.96 L336.50,44.74 L337.50,43.50 L338.50,42.24 L339.50,40.98 L340.50,39.70 L341.50,38.42 L342.50,37.13 L343.50,35.84 L344.50,34.55 L345.50,33.26 L346.50,31.97 L347.50,30.70 L348.50,29.43 L349.50,28.18 L350.50,26.95 L351.50,25.73 L352.50,24.54 L353.50,23.38 L354.50,22.25 L355.50,21.14 L356.50,20.08 L357.50,19.05 L358.50,18.07 L359.50,17.13 L360.50,16.23 L361.50,15.39 L362.50,14.61 L363.50,13.87 L364.50,13.20 L365.50,12.59 L366.50,12.05 L367.50,11.57 L368.50,11.16 L369.50,10.82 L370.50,10.55 L371.50,10.35 L372.50,10.24 L373.50,10.19 L374.50,10.23 L375.50,10.35 L376.50,10.54 L377.50,10.82 L378.50,11.17 L379.50,11.61 L380.50,12.13 L381.50,12.73 L382.50,13.41 L383.50,14.17 L384.50,15.01 L385.50,15.93 L386.50,16.92 L387.50,17.99 L388.50,19.14 L389.50,20.35 L390.50,21.64 L391.50,23.00 L392.50,24.42 L393.50,25.91 L394.50,27.45 L395.50,29.06 L396.50,30.73 L397.50,32.45 L398.50,34.22 L399.50,36.04 L400.50,37.90 L401.50,39.81 L402.50,41.75 L403.50,43.73 L404.50,45.75 L405.50,47.79 L406.50,49.86 L407.50,51.95 L408.50,54.07 L409.50,56.20 L410.50,58.34 L411.50,60.50 L412.50,62.67 L413.50,64.83 L414.50,67.01 L415.50,69.18 L416.50,71.35 L417.50,73.51 L418.50,75.66 L419.50,77.81 L420.50,79.94 L421.50,82.06 L422.50,84.16 L423.50,86.24 L424.50,88.30 L425.50,90.34 L426.50,92.35 L427.50,94.34 L428.50,96.31 L429.50,98.24 L430.50,100.15 L431.50,102.03 L432.50,103.88 L433.50,105.70 L434.50,107.48 L435.50,109.24 L436.50,110.96 L437.50,112.65 L438.50,114.31 L439.50,115.94 L440.50,117.54 L441.50,119.10 L442.50,120.63 L443.50,122.13 L444.50,123.60 L445.50,125.04 L446.50,126.45 L447.50,127.84 L448.50,129.19 L449.50,130.51 L450.50,131.81 L451.50,133.08 L452.50,134.33 L453.50,135.55 L454.50,136.75 L455.50,137.93 L456.50,139.08 L457.50,140.21 L458.50,141.32 L459.50,142.41 L460.50,143.48 L461.50,144.53 L462.50,145.57 L463.50,146.58 L464.50,147.59 L465.50,148.57 L466.50,149.54 L467.50,150.50 L468.50,151.44 L469.50,152.37 L470.50,153.29 L471.50,154.20 L472.50,155.10 L473.50,156.00 L474.50,156.87 L475.50,157.74 L476.50,158.60 L477.50,159.44 L478.50,160.28 L479.50,161.10 L480.50,161.91 L481.50,162.72 L482.50,163.51 L483.50,164.29 L484.50,165.06 L485.50,165.82 L486.50,166.57 L487.50,167.30 L488.50,168.03 L489.50,168.75 L490.50,169.45 L491.50,170.14 L492.50,170.83 L493.50,171.49 L494.50,172.15 L495.50,172.80 L496.50,173.43 L497.50,174.05 L498.50,174.66 L499.50,175.25 L500.50,175.84 L501.50,176.41 L502.50,176.96 L503.50,177.51 L504.50,178.04 L505.50,178.55 L506.50,179.06 L507.50,179.54 L508.50,180.02 L509.50,180.48 L510.50,180.93 L511.50,181.37 L512.50,181.79 L513.50,182.20 L514.50,182.60 L515.50,182.98 L516.50,183.35 L517.50,183.71 L518.50,184.06 L519.50,184.39 L520.50,184.72 L521.50,185.03 L522.50,185.33 L523.50,185.62 L524.50,185.90 L525.50,186.17 L526.50,186.43 L527.50,186.68 L528.50,186.92 L529.50,187.16 L530.50,187.38 L531.50,187.60 L532.50,187.81 L533.50,188.02 L534.50,188.22 L535.50,188.41 L536.50,188.60 L537.50,188.79 L538.50,188.97 L539.50,189.14 L540.50,189.31 L541.50,189.47 L542.50,189.62 L543.50,189.77 L544.50,189.93 L545.50,190.08 L546.50,190.23 L547.50,190.38 L548.50,190.53 L549.50,190.68 L550.50,190.83 L551.50,190.98 L552.50,191.14 L553.50,191.29 L554.50,191.45 L555.50,191.61 L556.50,191.78 L557.50,191.94 L558.50,192.11 L559.50,192.28 L560.50,192.46 L561.50,192.64 L562.50,192.82 L563.50,193.01 L564.50,193.20 L565.50,193.39 L566.50,193.59 L567.50,193.79 L568.50,193.99 L569.50,194.20 L570.50,194.41 L571.50,194.63 L572.50,194.85 L573.50,195.07 L574.50,195.30 L575.50,195.53 L576.50,195.76 L577.50,195.99 L578.50,196.23 L579.50,196.47 L580.50,196.71 L581.50,196.96 L582.50,197.20 L583.50,197.45 L584.50,197.70 L584.70,197.75" fill="none" stroke="#000" stroke-width="1.15" stroke-linejoin="round"/>
<line x1="584.70" x2="584.70" y1="197.75" y2="208.6" stroke="#000" stroke-width="1.0" stroke-opacity="0.45"/>
<line x1="37.50" x2="584.70" y1="208.6" y2="208.6" stroke="#000" stroke-width="1.0" stroke-opacity="0.45"/>
<path d="M37.50,208.60 L37.50,202.56 L38.50,202.47 L39.50,202.38 L40.50,202.30 L41.50,202.21 L42.50,202.13 L43.50,202.05 L44.50,201.97 L45.50,201.90 L46.50,201.82 L47.50,201.74 L48.50,201.67 L49.50,201.60 L50.50,201.52 L51.50,201.45 L52.50,201.37 L53.50,201.30 L54.50,201.22 L55.50,201.14 L56.50,201.06 L57.50,200.98 L58.50,200.89 L59.50,200.81 L60.50,200.72 L61.50,200.62 L62.50,200.52 L63.50,200.42 L64.50,200.31 L65.50,200.20 L66.50,200.08 L67.50,199.96 L68.50,199.82 L69.50,199.68 L70.50,199.52 L71.50,199.36 L72.50,199.19 L73.50,199.01 L74.50,198.82 L75.50,198.62 L76.50,198.41 L77.50,198.19 L78.50,197.96 L79.50,197.72 L80.50,197.46 L81.50,197.20 L82.50,196.92 L83.50,196.63 L84.50,196.33 L85.50,196.01 L86.50,195.68 L87.50,195.34 L88.50,194.99 L89.50,194.62 L90.50,194.23 L91.50,193.83 L92.50,193.41 L93.50,192.97 L94.50,192.53 L95.50,192.07 L96.50,191.59 L97.50,191.10 L98.50,190.60 L99.50,190.09 L100.50,189.56 L101.50,189.02 L102.50,188.47 L103.50,187.90 L104.50,187.33 L105.50,186.74 L106.50,186.14 L107.50,185.54 L108.50,184.92 L109.50,184.29 L110.50,183.65 L111.50,183.01 L112.50,182.36 L113.50,181.70 L114.50,181.03 L115.50,180.36 L116.50,179.68 L117.50,179.00 L118.50,178.31 L119.50,177.62 L120.50,176.92 L121.50,176.23 L122.50,175.53 L123.50,174.83 L124.50,174.13 L125.50,173.43 L126.50,172.73 L127.50,172.03 L128.50,171.33 L129.50,170.64 L130.50,169.95 L131.50,169.26 L132.50,168.57 L133.50,167.90 L134.50,167.22 L135.50,166.56 L136.50,165.90 L137.50,165.25 L138.50,164.60 L139.50,163.97 L140.50,163.34 L141.50,162.72 L142.50,162.12 L143.50,161.52 L144.50,160.93 L145.50,160.36 L146.50,159.80 L147.50,159.24 L148.50,158.70 L149.50,158.17 L150.50,157.66 L151.50,157.15 L152.50,156.66 L153.50,156.18 L154.50,155.72 L155.50,155.26 L156.50,154.82 L157.50,154.40 L158.50,153.98 L159.50,153.57 L160.50,153.18 L161.50,152.80 L162.50,152.43 L163.50,152.08 L164.50,151.73 L165.50,151.39 L166.50,151.07 L167.50,150.75 L168.50,150.44 L169.50,150.15 L170.50,149.86 L171.50,149.57 L172.50,149.30 L173.50,149.03 L174.50,148.77 L175.50,148.51 L176.50,148.26 L177.50,148.01 L178.50,147.77 L179.50,147.52 L180.50,147.28 L181.50,147.04 L182.50,146.80 L183.50,146.56 L184.50,146.32 L185.50,146.08 L186.50,145.83 L187.50,145.59 L188.50,145.33 L189.50,145.08 L190.50,144.81 L191.50,144.54 L192.50,144.27 L193.50,143.98 L194.50,143.69 L195.50,143.39 L196.50,143.08 L197.50,142.76 L198.50,142.43 L199.50,142.08 L200.50,141.73 L201.50,141.36 L202.50,140.98 L203.50,140.59 L204.50,140.18 L205.50,139.76 L206.50,139.32 L207.50,138.87 L208.50,138.40 L209.50,137.92 L210.50,137.42 L211.50,136.91 L212.50,136.38 L213.50,135.84 L214.50,135.28 L215.50,134.70 L216.50,134.11 L217.50,133.50 L218.50,132.87 L219.50,132.23 L220.50,131.58 L221.50,130.90 L222.50,130.22 L223.50,129.52 L224.50,128.80 L225.50,128.07 L226.50,127.33 L227.50,126.57 L228.50,125.80 L229.50,125.02 L230.50,124.22 L231.50,123.42 L232.50,122.60 L233.50,121.78 L234.50,120.94 L235.50,120.10 L236.50,119.24 L237.50,118.38 L238.50,117.52 L239.50,116.65 L240.50,115.77 L241.50,114.89 L242.50,114.00 L243.50,113.11 L244.50,112.22 L245.50,111.32 L246.50,110.42 L247.50,109.52 L248.50,108.61 L249.50,107.71 L250.50,106.82 L251.50,105.92 L252.50,105.03 L253.50,104.15 L254.50,103.27 L255.50,102.40 L256.50,101.54 L257.50,100.68 L258.50,99.83 L259.50,99.00 L260.50,98.17 L261.50,97.35 L262.50,96.55 L263.50,95.76 L264.50,94.98 L265.50,94.21 L266.50,93.46 L267.50,92.72 L268.50,91.99 L269.50,91.28 L270.50,90.59 L271.50,89.91 L272.50,89.25 L273.50,88.60 L274.50,87.97 L275.50,87.35 L276.50,86.75 L277.50,86.16 L278.50,85.59 L279.50,85.04 L280.50,84.50 L281.50,83.98 L282.50,83.47 L283.50,82.97 L284.50,82.49 L285.50,82.03 L286.50,81.57 L287.50,81.13 L288.50,80.70 L289.50,80.27 L290.50,79.86 L291.50,79.46 L292.50,79.07 L293.50,78.68 L294.50,78.30 L295.50,77.92 L296.50,77.55 L297.50,77.18 L298.50,76.82 L299.50,76.45 L300.50,76.09 L301.50,75.72 L302.50,75.35 L303.50,74.97 L304.50,74.59 L305.50,74.20 L306.50,73.80 L307.50,73.39 L308.50,72.98 L309.50,72.54 L310.50,72.10 L311.50,71.64 L312.50,71.16 L313.50,70.67 L314.50,70.16 L315.50,69.63 L316.50,69.07 L317.50,68.50 L318.50,67.90 L319.50,67.28 L320.50,66.63 L321.50,65.96 L322.50,65.26 L323.50,64.53 L324.50,63.78 L325.50,62.99 L326.50,62.18 L327.50,61.34 L328.50,60.47 L329.50,59.58 L330.50,58.65 L331.50,57.69 L332.50,56.71 L333.50,55.70 L334.50,54.66 L335.50,53.60 L336.50,52.51 L337.50,51.40 L338.50,50.26 L339.50,49.10 L340.50,47.92 L341.50,46.72 L342.50,45.51 L343.50,44.28 L344.50,43.03 L345.50,41.78 L346.50,40.51 L347.50,39.24 L348.50,37.97 L349.50,36.69 L350.50,35.42 L351.50,34.15 L352.50,32.88 L353.50,31.62 L354.50,30.38 L355.50,29.14 L356.50,27.93 L357.50,26.73 L358.50,25.56 L359.50,24.42 L360.50,23.31 L361.50,22.23 L362.50,21.18 L363.50,20.18 L364.50,19.21 L365.50,18.29 L366.50,17.42 L367.50,16.60 L368.50,15.83 L369.50,15.12 L370.50,14.47 L371.50,13.87 L372.50,13.34 L373.50,12.88 L374.50,12.49 L375.50,12.16 L376.50,11.90 L377.50,11.72 L378.50,11.62 L379.50,11.58 L380.50,11.63 L381.50,11.75 L382.50,11.95 L383.50,12.23 L384.50,12.59 L385.50,13.03 L386.50,13.55 L387.50,14.15 L388.50,14.83 L389.50,15.59 L390.50,16.42 L391.50,17.33 L392.50,18.32 L393.50,19.38 L394.50,20.51 L395.50,21.72 L396.50,22.99 L397.50,24.33 L398.50,25.74 L399.50,27.21 L400.50,28.74 L401.50,30.33 L402.50,31.97 L403.50,33.67 L404.50,35.42 L405.50,37.22 L406.50,39.06 L407.50,40.94 L408.50,42.86 L409.50,44.81 L410.50,46.80 L411.50,48.82 L412.50,50.86 L413.50,52.93 L414.50,55.02 L415.50,57.12 L416.50,59.24 L417.50,61.37 L418.50,63.51 L419.50,65.65 L420.50,67.80 L421.50,69.94 L422.50,72.08 L423.50,74.22 L424.50,76.35 L425.50,78.47 L426.50,80.58 L427.50,82.67 L428.50,84.75 L429.50,86.80 L430.50,88.84 L431.50,90.86 L432.50,92.85 L433.50,94.82 L434.50,96.77 L435.50,98.69 L436.50,100.58 L437.50,102.44 L438.50,104.27 L439.50,106.07 L440.50,107.84 L441.50,109.58 L442.50,111.29 L443.50,112.97 L444.50,114.61 L445.50,116.23 L446.50,117.81 L447.50,119.36 L448.50,120.88 L449.50,122.38 L450.50,123.84 L451.50,125.27 L452.50,126.67 L453.50,128.04 L454.50,129.38 L455.50,130.70 L456.50,131.99 L457.50,133.25 L458.50,134.49 L459.50,135.71 L460.50,136.90 L461.50,138.06 L462.50,139.21 L463.50,140.33 L464.50,141.44 L465.50,142.52 L466.50,143.59 L467.50,144.63 L468.50,145.66 L469.50,146.67 L470.50,147.67 L471.50,148.65 L472.50,149.61 L473.50,150.56 L474.50,151.49 L475.50,152.42 L476.50,153.33 L477.50,154.22 L478.50,155.11 L479.50,155.98 L480.50,156.84 L481.50,157.69 L482.50,158.52 L483.50,159.35 L484.50,160.17 L485.50,160.97 L486.50,161.77 L487.50,162.55 L488.50,163.33 L489.50,164.09 L490.50,164.84 L491.50,165.59 L492.50,166.32 L493.50,167.04 L494.50,167.75 L495.50,168.45 L496.50,169.14 L497.50,169.82 L498.50,170.48 L499.50,171.14 L500.50,171.78 L501.50,172.41 L502.50,173.03 L503.50,173.64 L504.50,174.23 L505.50,174.81 L506.50,175.38 L507.50,175.94 L508.50,176.48 L509.50,177.01 L510.50,177.53 L511.50,178.04 L512.50,178.53 L513.50,179.01 L514.50,179.47 L515.50,179.92 L516.50,180.36 L517.50,180.79 L518.50,181.20 L519.50,181.60 L520.50,181.99 L521.50,182.36 L522.50,182.72 L523.50,183.07 L524.50,183.41 L525.50,183.74 L526.50,184.05 L527.50,184.35 L528.50,184.64 L529.50,184.92 L530.50,185.19 L531.50,185.46 L532.50,185.71 L533.50,185.95 L534.50,186.18 L535.50,186.40 L536.50,186.62 L537.50,186.83 L538.50,187.03 L539.50,187.22 L540.50,187.41 L541.50,187.59 L542.50,187.77 L543.50,187.94 L544.50,188.11 L545.50,188.28 L546.50,188.44 L547.50,188.59 L548.50,188.75 L549.50,188.90 L550.50,189.05 L551.50,189.20 L552.50,189.35 L553.50,189.50 L554.50,189.65 L555.50,189.80 L556.50,189.95 L557.50,190.10 L558.50,190.25 L559.50,190.40 L560.50,190.55 L561.50,190.71 L562.50,190.87 L563.50,191.03 L564.50,191.20 L565.50,191.37 L566.50,191.54 L567.50,191.71 L568.50,191.89 L569.50,192.07 L570.50,192.25 L571.50,192.44 L572.50,192.63 L573.50,192.83 L574.50,193.03 L575.50,193.23 L576.50,193.44 L577.50,193.65 L578.50,193.86 L579.50,194.08 L580.50,194.30 L581.50,194.52 L582.50,194.75 L583.50,194.98 L584.50,195.21 L584.70,195.26 L584.70,208.60 Z" fill="#619CFF" fill-opacity="0.3" stroke="none"/>
<path d="M37.50,208.60 L37.50,202.56 L38.50,202.47 L39.50,202.38 L40.50,202.30 L41.50,202.21 L42.50,202.13 L43.50,202.05 L44.50,201.97 L45.50,201.90 L46.50,201.82 L47.50,201.74 L48.50,201.67 L49.50,201.60 L50.50,201.52 L51.50,201.45 L52.50,201.37 L53.50,201.30 L54.50,201.22 L55.50,201.14 L56.50,201.06 L57.50,200.98 L58.50,200.89 L59.50,200.81 L60.50,200.72 L61.50,200.62 L62.50,200.52 L63.50,200.42 L64.50,200.31 L65.50,200.20 L66.50,200.08 L67.50,199.96 L68.50,199.82 L69.50,199.68 L70.50,199.52 L71.50,199.36 L72.50,199.19 L73.50,199.01 L74.50,198.82 L75.50,198.62 L76.50,198.41 L77.50,198.19 L78.50,197.96 L79.50,197.72 L80.50,197.46 L81.50,197.20 L82.50,196.92 L83.50,196.63 L84.50,196.33 L85.50,196.01 L86.50,195.68 L87.50,195.34 L88.50,194.99 L89.50,194.62 L90.50,194.23 L91.50,193.83 L92.50,193.41 L93.50,192.97 L94.50,192.53 L95.50,192.07 L96.50,191.59 L97.50,191.10 L98.50,190.60 L99.50,190.09 L100.50,189.56 L101.50,189.02 L102.50,188.47 L103.50,187.90 L104.50,187.33 L105.50,186.74 L106.50,186.14 L107.50,185.54 L108.50,184.92 L109.50,184.29 L110.50,183.65 L111.50,183.01 L112.50,182.36 L113.50,181.70 L114.50,181.03 L115.50,180.36 L116.50,179.68 L117.50,179.00 L118.50,178.31 L119.50,177.62 L120.50,176.92 L121.50,176.23 L122.50,175.53 L123.50,174.83 L124.50,174.13 L125.50,173.43 L126.50,172.73 L127.50,172.03 L128.50,171.33 L129.50,170.64 L130.50,169.95 L131.50,169.26 L132.50,168.57 L133.50,167.90 L134.50,167.22 L135.50,166.56 L136.50,165.90 L137.50,165.25 L138.50,164.60 L139.50,163.97 L140.50,163.34 L141.50,162.72 L142.50,162.12 L143.50,161.52 L144.50,160.93 L145.50,160.36 L146.50,159.80 L147.50,159.24 L148.50,158.70 L149.50,158.17 L150.50,157.66 L151.50,157.15 L152.50,156.66 L153.50,156.18 L154.50,155.72 L155.50,155.26 L156.50,154.82 L157.50,154.40 L158.50,153.98 L159.50,153.57 L160.50,153.18 L161.50,152.80 L162.50,152.43 L163.50,152.08 L164.50,151.73 L165.50,151.39 L166.50,151.07 L167.50,150.75 L168.50,150.44 L169.50,150.15 L170.50,149.86 L171.50,149.57 L172.50,149.30 L173.50,149.03 L174.50,148.77 L175.50,148.51 L176.50,148.26 L177.50,148.01 L178.50,147.77 L179.50,147.52 L180.50,147.28 L181.50,147.04 L182.50,146.80 L183.50,146.56 L184.50,146.32 L185.50,146.08 L186.50,145.83 L187.50,145.59 L188.50,145.33 L189.50,145.08 L190.50,144.81 L191.50,144.54 L192.50,144.27 L193.50,143.98 L194.50,143.69 L195.50,143.39 L196.50,143.08 L197.50,142.76 L198.50,142.43 L199.50,142.08 L200.50,141.73 L201.50,141.36 L202.50,140.98 L203.50,140.59 L204.50,140.18 L205.50,139.76 L206.50,139.32 L207.50,138.87 L208.50,138.40 L209.50,137.92 L210.50,137.42 L211.50,136.91 L212.50,136.38 L213.50,135.84 L214.50,135.28 L215.50,134.70 L216.50,134.11 L217.50,133.50 L218.50,132.87 L219.50,132.23 L220.50,131.58 L221.50,130.90 L222.50,130.22 L223.50,129.52 L224.50,128.80 L225.50,128.07 L226.50,127.33 L227.50,126.57 L228.50,125.80 L229.50,125.02 L230.50,124.22 L231.50,123.42 L232.50,122.60 L233.50,121.78 L234.50,120.94 L235.50,120.10 L236.50,119.24 L237.50,118.38 L238.50,117.52 L239.50,116.65 L240.50,115.77 L241.50,114.89 L242.50,114.00 L243.50,113.11 L244.50,112.22 L245.50,111.32 L246.50,110.42 L247.50,109.52 L248.50,108.61 L249.50,107.71 L250.50,106.82 L251.50,105.92 L252.50,105.03 L253.50,104.15 L254.50,103.27 L255.50,102.40 L256.50,101.54 L257.50,100.68 L258.50,99.83 L259.50,99.00 L260.50,98.17 L261.50,97.35 L262.50,96.55 L263.50,95.76 L264.50,94.98 L265.50,94.21 L266.50,93.46 L267.50,92.72 L268.50,91.99 L269.50,91.28 L270.50,90.59 L271.50,89.91 L272.50,89.25 L273.50,88.60 L274.50,87.97 L275.50,87.35 L276.50,86.75 L277.50,86.16 L278.50,85.59 L279.50,85.04 L280.50,84.50 L281.50,83.98 L282.50,83.47 L283.50,82.97 L284.50,82.49 L285.50,82.03 L286.50,81.57 L287.50,81.13 L288.50,80.70 L289.50,80.27 L290.50,79.86 L291.50,79.46 L292.50,79.07 L293.50,78.68 L294.50,78.30 L295.50,77.92 L296.50,77.55 L297.50,77.18 L298.50,76.82 L299.50,76.45 L300.50,76.09 L301.50,75.72 L302.50,75.35 L303.50,74.97 L304.50,74.59 L305.50,74.20 L306.50,73.80 L307.50,73.39 L308.50,72.98 L309.50,72.54 L310.50,72.10 L311.50,71.64 L312.50,71.16 L313.50,70.67 L314.50,70.16 L315.50,69.63 L316.50,69.07 L317.50,68.50 L318.50,67.90 L319.50,67.28 L320.50,66.63 L321.50,65.96 L322.50,65.26 L323.50,64.53 L324.50,63.78 L325.50,62.99 L326.50,62.18 L327.50,61.34 L328.50,60.47 L329.50,59.58 L330.50,58.65 L331.50,57.69 L332.50,56.71 L333.50,55.70 L334.50,54.66 L335.50,53.60 L336.50,52.51 L337.50,51.40 L338.50,50.26 L339.50,49.10 L340.50,47.92 L341.50,46.72 L342.50,45.51 L343.50,44.28 L344.50,43.03 L345.50,41.78 L346.50,40.51 L347.50,39.24 L348.50,37.97 L349.50,36.69 L350.50,35.42 L351.50,34.15 L352.50,32.88 L353.50,31.62 L354.50,30.38 L355.50,29.14 L356.50,27.93 L357.50,26.73 L358.50,25.56 L359.50,24.42 L360.50,23.31 L361.50,22.23 L362.50,21.18 L363.50,20.18 L364.50,19.21 L365.50,18.29 L366.50,17.42 L367.50,16.60 L368.50,15.83 L369.50,15.12 L370.50,14.47 L371.50,13.87 L372.50,13.34 L373.50,12.88 L374.50,12.49 L375.50,12.16 L376.50,11.90 L377.50,11.72 L378.50,11.62 L379.50,11.58 L380.50,11.63 L381.50,11.75 L382.50,11.95 L383.50,12.23 L384.50,12.59 L385.50,13.03 L386.50,13.55 L387.50,14.15 L388.50,14.83 L389.50,15.59 L390.50,16.42 L391.50,17.33 L392.50,18.32 L393.50,19.38 L394.50,20.51 L395.50,21.72 L396.50,22.99 L397.50,24.33 L398.50,25.74 L399.50,27.21 L400.50,28.74 L401.50,30.33 L402.50,31.97 L403.50,33.67 L404.50,35.42 L405.50,37.22 L406.50,39.06 L407.50,40.94 L408.50,42.86 L409.50,44.81 L410.50,46.80 L411.50,48.82 L412.50,50.86 L413.50,52.93 L414.50,55.02 L415.50,57.12 L416.50,59.24 L417.50,61.37 L418.50,63.51 L419.50,65.65 L420.50,67.80 L421.50,69.94 L422.50,72.08 L423.50,74.22 L424.50,76.35 L425.50,78.47 L426.50,80.58 L427.50,82.67 L428.50,84.75 L429.50,86.80 L430.50,88.84 L431.50,90.86 L432.50,92.85 L433.50,94.82 L434.50,96.77 L435.50,98.69 L436.50,100.58 L437.50,102.44 L438.50,104.27 L439.50,106.07 L440.50,107.84 L441.50,109.58 L442.50,111.29 L443.50,112.97 L444.50,114.61 L445.50,116.23 L446.50,117.81 L447.50,119.36 L448.50,120.88 L449.50,122.38 L450.50,123.84 L451.50,125.27 L452.50,126.67 L453.50,128.04 L454.50,129.38 L455.50,130.70 L456.50,131.99 L457.50,133.25 L458.50,134.49 L459.50,135.71 L460.50,136.90 L461.50,138.06 L462.50,139.21 L463.50,140.33 L464.50,141.44 L465.50,142.52 L466.50,143.59 L467.50,144.63 L468.50,145.66 L469.50,146.67 L470.50,147.67 L471.50,148.65 L472.50,149.61 L473.50,150.56 L474.50,151.49 L475.50,152.42 L476.50,153.33 L477.50,154.22 L478.50,155.11 L479.50,155.98 L480.50,156.84 L481.50,157.69 L482.50,158.52 L483.50,159.35 L484.50,160.17 L485.50,160.97 L486.50,161.77 L487.50,162.55 L488.50,163.33 L489.50,164.09 L490.50,164.84 L491.50,165.59 L492.50,166.32 L493.50,167.04 L494.50,167.75 L495.50,168.45 L496.50,169.14 L497.50,169.82 L498.50,170.48 L499.50,171.14 L500.50,171.78 L501.50,172.41 L502.50,173.03 L503.50,173.64 L504.50,174.23 L505.50,174.81 L506.50,175.38 L507.50,175.94 L508.50,176.48 L509.50,177.01 L510.50,177.53 L511.50,178.04 L512.50,178.53 L513.50,179.01 L514.50,179.47 L515.50,179.92 L516.50,180.36 L517.50,180.79 L518.50,181.20 L519.50,181.60 L520.50,181.99 L521.50,182.36 L522.50,182.72 L523.50,183.07 L524.50,183.41 L525.50,183.74 L526.50,184.05 L527.50,184.35 L528.50,184.64 L529.50,184.92 L530.50,185.19 L531.50,185.46 L532.50,185.71 L533.50,185.95 L534.50,186.18 L535.50,186.40 L536.50,186.62 L537.50,186.83 L538.50,187.03 L539.50,187.22 L540.50,187.41 L541.50,187.59 L542.50,187.77 L543.50,187.94 L544.50,188.11 L545.50,188.28 L546.50,188.44 L547.50,188.59 L548.50,188.75 L549.50,188.90 L550.50,189.05 L551.50,189.20 L552.50,189.35 L553.50,189.50 L554.50,189.65 L555.50,189.80 L556.50,189.95 L557.50,190.10 L558.50,190.25 L559.50,190.40 L560.50,190.55 L561.50,190.71 L562.50,190.87 L563.50,191.03 L564.50,191.20 L565.50,191.37 L566.50,191.54 L567.50,191.71 L568.50,191.89 L569.50,192.07 L570.50,192.25 L571.50,192.44 L572.50,192.63 L573.50,192.83 L574.50,193.03 L575.50,193.23 L576.50,193.44 L577.50,193.65 L578.50,193.86 L579.50,194.08 L580.50,194.30 L581.50,194.52 L582.50,194.75 L583.50,194.98 L584.50,195.21 L584.70,195.26" fill="none" stroke="#000" stroke-width="1.15" stroke-linejoin="round"/>
<line x1="584.70" x2="584.70" y1="195.26" y2="208.6" stroke="#000" stroke-width="1.0" stroke-opacity="0.45"/>
<line x1="37.50" x2="584.70" y1="208.6" y2="208.6" stroke="#000" stroke-width="1.0" stroke-opacity="0.45"/>
</g>
<line x1="7.0" x2="10.0" y1="209.05" y2="209.05" stroke="#4a4a4a" stroke-width="1.3"/>
<text transform="translate(4.9,212.25) scale(1.2,1.04)" font-size="9.5" fill="#262626" text-anchor="end" stroke="#262626" stroke-width="0.2">0</text>
<line x1="7.0" x2="10.0" y1="149.25" y2="149.25" stroke="#4a4a4a" stroke-width="1.3"/>
<text transform="translate(4.9,152.45) scale(1.2,1.04)" font-size="9.5" fill="#262626" text-anchor="end" stroke="#262626" stroke-width="0.2">1</text>
<line x1="7.0" x2="10.0" y1="89.45" y2="89.45" stroke="#4a4a4a" stroke-width="1.3"/>
<text transform="translate(4.9,92.65) scale(1.2,1.04)" font-size="9.5" fill="#262626" text-anchor="end" stroke="#262626" stroke-width="0.2">2</text>
<line x1="7.0" x2="10.0" y1="29.65" y2="29.65" stroke="#4a4a4a" stroke-width="1.3"/>
<text transform="translate(4.9,32.85) scale(1.2,1.04)" font-size="9.5" fill="#262626" text-anchor="end" stroke="#262626" stroke-width="0.2">3</text>
<line x1="30.90" x2="30.90" y1="218.6" y2="221.60" stroke="#4a4a4a" stroke-width="1.3"/>
<text transform="translate(30.90,230.9) scale(1.0,1.04)" font-size="9.3" fill="#262626" text-anchor="middle" stroke="#262626" stroke-width="0.2">0.6</text>
<line x1="178.44" x2="178.44" y1="218.6" y2="221.60" stroke="#4a4a4a" stroke-width="1.3"/>
<text transform="translate(178.44,230.9) scale(1.0,1.04)" font-size="9.3" fill="#262626" text-anchor="middle" stroke="#262626" stroke-width="0.2">0.8</text>
<line x1="325.98" x2="325.98" y1="218.6" y2="221.60" stroke="#4a4a4a" stroke-width="1.3"/>
<text transform="translate(325.98,230.9) scale(1.0,1.04)" font-size="9.3" fill="#262626" text-anchor="middle" stroke="#262626" stroke-width="0.2">1.0</text>
<line x1="473.52" x2="473.52" y1="218.6" y2="221.60" stroke="#4a4a4a" stroke-width="1.3"/>
<text transform="translate(473.52,230.9) scale(1.0,1.04)" font-size="9.3" fill="#262626" text-anchor="middle" stroke="#262626" stroke-width="0.2">1.2</text>
<text x="311.25" y="243.8" font-size="11.45" fill="#000" text-anchor="middle" stroke="#000" stroke-width="0.2">Posterior Mean of effect size</text>
<text x="629.6" y="84.3" font-size="11.45" fill="#000" stroke="#000" stroke-width="0.2">Prior</text>
<rect x="629.2" y="91.2" width="18.6" height="17.8" fill="#F2F2F2"/>
<rect x="629.9" y="91.90" width="17.2" height="16.4" fill="#F8766D" fill-opacity="0.3" stroke="#2a2a2a" stroke-width="1.4"/>
<text transform="translate(653.2,103.60) scale(1,1.08)" font-size="9.2" fill="#000" stroke="#000" stroke-width="0.22">medium</text>
<rect x="629.2" y="109.65" width="18.6" height="17.8" fill="#F2F2F2"/>
<rect x="629.9" y="110.35" width="17.2" height="16.4" fill="#00BA38" fill-opacity="0.3" stroke="#2a2a2a" stroke-width="1.4"/>
<text transform="translate(653.2,122.05) scale(1,1.08)" font-size="9.2" fill="#000" stroke="#000" stroke-width="0.22">narrow</text>
<rect x="629.2" y="128.1" width="18.6" height="17.8" fill="#F2F2F2"/>
<rect x="629.9" y="128.80" width="17.2" height="16.4" fill="#619CFF" fill-opacity="0.3" stroke="#2a2a2a" stroke-width="1.4"/>
<text transform="translate(653.2,140.50) scale(1,1.08)" font-size="9.2" fill="#000" stroke="#000" stroke-width="0.22">wide</text>
<rect x="27.20" y="452.06" width="23.50" height="4.64" fill="#87CEEB" stroke="#1a1a1a" stroke-width="0.95"/>
<rect x="50.70" y="442.78" width="23.50" height="13.92" fill="#87CEEB" stroke="#1a1a1a" stroke-width="0.95"/>
<rect x="74.20" y="391.74" width="23.50" height="64.96" fill="#87CEEB" stroke="#1a1a1a" stroke-width="0.95"/>
<rect x="97.70" y="303.58" width="23.50" height="153.12" fill="#87CEEB" stroke="#1a1a1a" stroke-width="0.95"/>
<rect x="121.20" y="308.22" width="23.50" height="148.48" fill="#87CEEB" stroke="#1a1a1a" stroke-width="0.95"/>
<rect x="144.70" y="387.10" width="23.50" height="69.60" fill="#87CEEB" stroke="#1a1a1a" stroke-width="0.95"/>
<rect x="168.20" y="447.42" width="23.50" height="9.28" fill="#87CEEB" stroke="#1a1a1a" stroke-width="0.95"/>
<line x1="20.6" x2="20.6" y1="317.50" y2="456.70" stroke="#000" stroke-width="0.9"/>
<line x1="15.100000000000001" x2="20.6" y1="456.70" y2="456.70" stroke="#000" stroke-width="0.9"/>
<text transform="translate(8.60,456.70) rotate(-90)" font-size="8.2" fill="#222" text-anchor="middle" stroke="#222" stroke-width="0.2">0</text>
<line x1="15.100000000000001" x2="20.6" y1="433.50" y2="433.50" stroke="#000" stroke-width="0.9"/>
<text transform="translate(8.60,433.50) rotate(-90)" font-size="8.2" fill="#222" text-anchor="middle" stroke="#222" stroke-width="0.2">50</text>
<line x1="15.100000000000001" x2="20.6" y1="410.30" y2="410.30" stroke="#000" stroke-width="0.9"/>
<text transform="translate(8.60,410.30) rotate(-90)" font-size="8.2" fill="#222" text-anchor="middle" stroke="#222" stroke-width="0.2">100</text>
<line x1="15.100000000000001" x2="20.6" y1="387.10" y2="387.10" stroke="#000" stroke-width="0.9"/>
<text transform="translate(8.60,387.10) rotate(-90)" font-size="8.2" fill="#222" text-anchor="middle" stroke="#222" stroke-width="0.2">150</text>
<line x1="15.100000000000001" x2="20.6" y1="363.90" y2="363.90" stroke="#000" stroke-width="0.9"/>
<text transform="translate(8.60,363.90) rotate(-90)" font-size="8.2" fill="#222" text-anchor="middle" stroke="#222" stroke-width="0.2">200</text>
<line x1="15.100000000000001" x2="20.6" y1="340.70" y2="340.70" stroke="#000" stroke-width="0.9"/>
<text transform="translate(8.60,340.70) rotate(-90)" font-size="8.2" fill="#222" text-anchor="middle" stroke="#222" stroke-width="0.2">250</text>
<line x1="15.100000000000001" x2="20.6" y1="317.50" y2="317.50" stroke="#000" stroke-width="0.9"/>
<text transform="translate(8.60,317.50) rotate(-90)" font-size="8.2" fill="#222" text-anchor="middle" stroke="#222" stroke-width="0.2">300</text>
<line x1="27.20" x2="191.70" y1="463" y2="463" stroke="#000" stroke-width="0.9"/>
<line x1="27.20" x2="27.20" y1="463" y2="468.4" stroke="#000" stroke-width="0.9"/>
<line x1="50.70" x2="50.70" y1="463" y2="468.4" stroke="#000" stroke-width="0.9"/>
<line x1="74.20" x2="74.20" y1="463" y2="468.4" stroke="#000" stroke-width="0.9"/>
<line x1="97.70" x2="97.70" y1="463" y2="468.4" stroke="#000" stroke-width="0.9"/>
<line x1="121.20" x2="121.20" y1="463" y2="468.4" stroke="#000" stroke-width="0.9"/>
<line x1="144.70" x2="144.70" y1="463" y2="468.4" stroke="#000" stroke-width="0.9"/>
<line x1="168.20" x2="168.20" y1="463" y2="468.4" stroke="#000" stroke-width="0.9"/>
<line x1="191.70" x2="191.70" y1="463" y2="468.4" stroke="#000" stroke-width="0.9"/>
<text x="27.20" y="481" font-size="8.2" fill="#222" text-anchor="middle" stroke="#222" stroke-width="0.2">-0.003</text>
<text x="74.20" y="481" font-size="8.2" fill="#222" text-anchor="middle" stroke="#222" stroke-width="0.2">-0.001</text>
<text x="121.20" y="481" font-size="8.2" fill="#222" text-anchor="middle" stroke="#222" stroke-width="0.2">0.001</text>
<text x="168.20" y="481" font-size="8.2" fill="#222" text-anchor="middle" stroke="#222" stroke-width="0.2">0.003</text>
<text x="109.45" y="280.9" font-size="10.1" font-weight="bold" text-anchor="middle" fill="#000" stroke="#000" stroke-width="0.2">Wide-Medium</text>
<text x="109.45" y="501.2" font-size="9.1" fill="#1a1a1a" stroke="none" text-anchor="middle">δ</text>
<rect x="267.00" y="450.26" width="15.00" height="6.34" fill="#6C8CC8" stroke="#1a1a1a" stroke-width="0.95"/>
<rect x="282.00" y="437.58" width="15.00" height="19.02" fill="#6C8CC8" stroke="#1a1a1a" stroke-width="0.95"/>
<rect x="297.00" y="329.80" width="15.00" height="126.80" fill="#6C8CC8" stroke="#1a1a1a" stroke-width="0.95"/>
<rect x="312.00" y="303.17" width="15.00" height="153.43" fill="#6C8CC8" stroke="#1a1a1a" stroke-width="0.95"/>
<rect x="327.00" y="380.52" width="15.00" height="76.08" fill="#6C8CC8" stroke="#1a1a1a" stroke-width="0.95"/>
<rect x="342.00" y="329.80" width="15.00" height="126.80" fill="#6C8CC8" stroke="#1a1a1a" stroke-width="0.95"/>
<rect x="357.00" y="418.56" width="15.00" height="38.04" fill="#6C8CC8" stroke="#1a1a1a" stroke-width="0.95"/>
<rect x="372.00" y="424.90" width="15.00" height="31.70" fill="#6C8CC8" stroke="#1a1a1a" stroke-width="0.95"/>
<rect x="387.00" y="412.22" width="15.00" height="44.38" fill="#6C8CC8" stroke="#1a1a1a" stroke-width="0.95"/>
<rect x="402.00" y="450.26" width="15.00" height="6.34" fill="#6C8CC8" stroke="#1a1a1a" stroke-width="0.95"/>
<rect x="417.00" y="450.26" width="15.00" height="6.34" fill="#6C8CC8" stroke="#1a1a1a" stroke-width="0.95"/>
<line x1="260.4" x2="260.4" y1="329.80" y2="456.60" stroke="#000" stroke-width="0.9"/>
<line x1="254.89999999999998" x2="260.4" y1="456.60" y2="456.60" stroke="#000" stroke-width="0.9"/>
<text transform="translate(248.40,456.60) rotate(-90)" font-size="8.2" fill="#222" text-anchor="middle" stroke="#222" stroke-width="0.2">0</text>
<line x1="254.89999999999998" x2="260.4" y1="424.90" y2="424.90" stroke="#000" stroke-width="0.9"/>
<text transform="translate(248.40,424.90) rotate(-90)" font-size="8.2" fill="#222" text-anchor="middle" stroke="#222" stroke-width="0.2">50</text>
<line x1="254.89999999999998" x2="260.4" y1="393.20" y2="393.20" stroke="#000" stroke-width="0.9"/>
<text transform="translate(248.40,393.20) rotate(-90)" font-size="8.2" fill="#222" text-anchor="middle" stroke="#222" stroke-width="0.2">100</text>
<line x1="254.89999999999998" x2="260.4" y1="361.50" y2="361.50" stroke="#000" stroke-width="0.9"/>
<text transform="translate(248.40,361.50) rotate(-90)" font-size="8.2" fill="#222" text-anchor="middle" stroke="#222" stroke-width="0.2">150</text>
<line x1="254.89999999999998" x2="260.4" y1="329.80" y2="329.80" stroke="#000" stroke-width="0.9"/>
<text transform="translate(248.40,329.80) rotate(-90)" font-size="8.2" fill="#222" text-anchor="middle" stroke="#222" stroke-width="0.2">200</text>
<line x1="282.00" x2="432.00" y1="463" y2="463" stroke="#000" stroke-width="0.9"/>
<line x1="282.00" x2="282.00" y1="463" y2="468.4" stroke="#000" stroke-width="0.9"/>
<line x1="312.00" x2="312.00" y1="463" y2="468.4" stroke="#000" stroke-width="0.9"/>
<line x1="342.00" x2="342.00" y1="463" y2="468.4" stroke="#000" stroke-width="0.9"/>
<line x1="372.00" x2="372.00" y1="463" y2="468.4" stroke="#000" stroke-width="0.9"/>
<line x1="402.00" x2="402.00" y1="463" y2="468.4" stroke="#000" stroke-width="0.9"/>
<line x1="432.00" x2="432.00" y1="463" y2="468.4" stroke="#000" stroke-width="0.9"/>
<text x="282.00" y="481" font-size="8.2" fill="#222" text-anchor="middle" stroke="#222" stroke-width="0.2">0.004</text>
<text x="312.00" y="481" font-size="8.2" fill="#222" text-anchor="middle" stroke="#222" stroke-width="0.2">0.006</text>
<text x="342.00" y="481" font-size="8.2" fill="#222" text-anchor="middle" stroke="#222" stroke-width="0.2">0.008</text>
<text x="372.00" y="481" font-size="8.2" fill="#222" text-anchor="middle" stroke="#222" stroke-width="0.2">0.010</text>
<text x="402.00" y="481" font-size="8.2" fill="#222" text-anchor="middle" stroke="#222" stroke-width="0.2">0.012</text>
<text x="432.00" y="481" font-size="8.2" fill="#222" text-anchor="middle" stroke="#222" stroke-width="0.2">0.014</text>
<text x="349.50" y="280.9" font-size="10.1" font-weight="bold" text-anchor="middle" fill="#000" stroke="#000" stroke-width="0.2">Wide-Narrow</text>
<text x="349.50" y="501.2" font-size="9.1" fill="#1a1a1a" stroke="none" text-anchor="middle">δ</text>
<rect x="506.60" y="443.42" width="16.50" height="13.28" fill="#2E45A3" stroke="#1a1a1a" stroke-width="0.95"/>
<rect x="523.10" y="337.18" width="16.50" height="119.52" fill="#2E45A3" stroke="#1a1a1a" stroke-width="0.95"/>
<rect x="539.60" y="330.54" width="16.50" height="126.16" fill="#2E45A3" stroke="#1a1a1a" stroke-width="0.95"/>
<rect x="556.10" y="303.98" width="16.50" height="152.72" fill="#2E45A3" stroke="#1a1a1a" stroke-width="0.95"/>
<rect x="572.60" y="350.46" width="16.50" height="106.24" fill="#2E45A3" stroke="#1a1a1a" stroke-width="0.95"/>
<rect x="589.10" y="383.66" width="16.50" height="73.04" fill="#2E45A3" stroke="#1a1a1a" stroke-width="0.95"/>
<rect x="605.60" y="410.22" width="16.50" height="46.48" fill="#2E45A3" stroke="#1a1a1a" stroke-width="0.95"/>
<rect x="622.10" y="436.78" width="16.50" height="19.92" fill="#2E45A3" stroke="#1a1a1a" stroke-width="0.95"/>
<line x1="638.60" x2="655.10" y1="456.70" y2="456.70" stroke="#000" stroke-width="1"/>
<rect x="655.10" y="450.06" width="16.50" height="6.64" fill="#2E45A3" stroke="#1a1a1a" stroke-width="0.95"/>
<line x1="500.2" x2="500.2" y1="323.90" y2="456.70" stroke="#000" stroke-width="0.9"/>
<line x1="494.7" x2="500.2" y1="456.70" y2="456.70" stroke="#000" stroke-width="0.9"/>
<text transform="translate(488.20,456.70) rotate(-90)" font-size="8.2" fill="#222" text-anchor="middle" stroke="#222" stroke-width="0.2">0</text>
<line x1="494.7" x2="500.2" y1="423.50" y2="423.50" stroke="#000" stroke-width="0.9"/>
<text transform="translate(488.20,423.50) rotate(-90)" font-size="8.2" fill="#222" text-anchor="middle" stroke="#222" stroke-width="0.2">50</text>
<line x1="494.7" x2="500.2" y1="390.30" y2="390.30" stroke="#000" stroke-width="0.9"/>
<text transform="translate(488.20,390.30) rotate(-90)" font-size="8.2" fill="#222" text-anchor="middle" stroke="#222" stroke-width="0.2">100</text>
<line x1="494.7" x2="500.2" y1="357.10" y2="357.10" stroke="#000" stroke-width="0.9"/>
<text transform="translate(488.20,357.10) rotate(-90)" font-size="8.2" fill="#222" text-anchor="middle" stroke="#222" stroke-width="0.2">150</text>
<line x1="494.7" x2="500.2" y1="323.90" y2="323.90" stroke="#000" stroke-width="0.9"/>
<text transform="translate(488.20,323.90) rotate(-90)" font-size="8.2" fill="#222" text-anchor="middle" stroke="#222" stroke-width="0.2">200</text>
<line x1="523.10" x2="655.10" y1="463" y2="463" stroke="#000" stroke-width="0.9"/>
<line x1="523.10" x2="523.10" y1="463" y2="468.4" stroke="#000" stroke-width="0.9"/>
<line x1="556.10" x2="556.10" y1="463" y2="468.4" stroke="#000" stroke-width="0.9"/>
<line x1="589.10" x2="589.10" y1="463" y2="468.4" stroke="#000" stroke-width="0.9"/>
<line x1="622.10" x2="622.10" y1="463" y2="468.4" stroke="#000" stroke-width="0.9"/>
<line x1="655.10" x2="655.10" y1="463" y2="468.4" stroke="#000" stroke-width="0.9"/>
<text x="523.10" y="481" font-size="8.2" fill="#222" text-anchor="middle" stroke="#222" stroke-width="0.2">0.004</text>
<text x="556.10" y="481" font-size="8.2" fill="#222" text-anchor="middle" stroke="#222" stroke-width="0.2">0.006</text>
<text x="589.10" y="481" font-size="8.2" fill="#222" text-anchor="middle" stroke="#222" stroke-width="0.2">0.008</text>
<text x="622.10" y="481" font-size="8.2" fill="#222" text-anchor="middle" stroke="#222" stroke-width="0.2">0.010</text>
<text x="655.10" y="481" font-size="8.2" fill="#222" text-anchor="middle" stroke="#222" stroke-width="0.2">0.012</text>
<text x="589.10" y="280.9" font-size="10.1" font-weight="bold" text-anchor="middle" fill="#000" stroke="#000" stroke-width="0.2">Medium-Narrow</text>
<text x="589.10" y="501.2" font-size="9.1" fill="#1a1a1a" stroke="none" text-anchor="middle">δ</text>
</svg>
</body></html>
